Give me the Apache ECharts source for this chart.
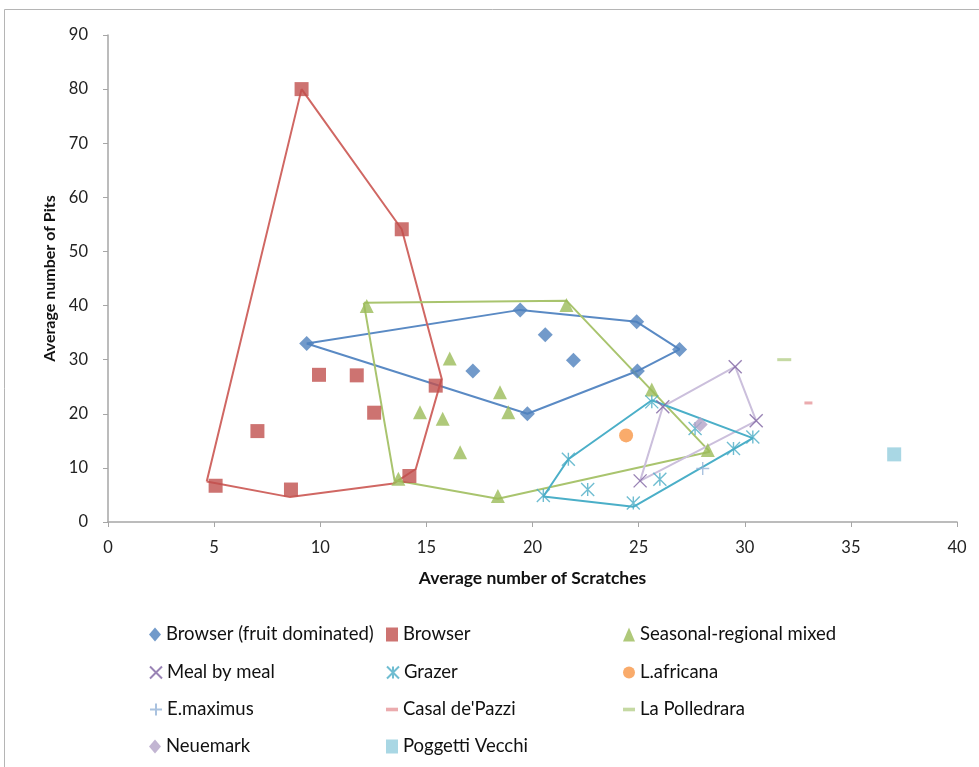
<!DOCTYPE html>
<html><head><meta charset="utf-8">
<script src="https://cdn.jsdelivr.net/npm/echarts/dist/echarts.min.js"></script>
<style>html,body{margin:0;padding:0;background:#fff}#c{width:979px;height:767px}</style>
</head><body><div id="c"></div><script>
// ---- data ----
const browserFruitX = [9.36, 19.42, 20.6, 21.93, 24.91, 26.93, 24.94, 19.76, 17.19];
const browserFruitY = [33.0, 39.2, 34.6, 29.9, 37.0, 31.9, 27.9, 20.0, 27.9];
const browserFruitHullX = [9.36, 19.42, 24.91, 26.93, 24.94, 19.76, 9.36];
const browserFruitHullY = [33.0, 39.2, 37.0, 31.9, 27.9, 20.0, 33.0];

const browserX = [9.12, 13.84, 9.94, 11.72, 12.54, 15.44, 7.04, 5.07, 8.62, 14.2];
const browserY = [80.0, 54.1, 27.2, 27.1, 20.2, 25.2, 16.8, 6.7, 6.0, 8.5];
const browserHullX = [4.65, 9.12, 13.84, 15.72, 14.5, 13.45, 8.58, 4.65];
const browserHullY = [7.5, 80.0, 54.1, 26.5, 9.8, 7.1, 4.6, 7.5];

const seasonalX = [12.19, 21.6, 16.1, 18.47, 14.7, 15.77, 18.86, 16.59, 13.68, 18.37, 25.62, 28.26];
const seasonalY = [39.9, 40.1, 30.2, 24.0, 20.3, 19.1, 20.3, 12.9, 8.0, 4.8, 24.5, 13.3];
const seasonalHullX = [12.05, 21.6, 28.35, 18.37, 13.5, 12.05];
const seasonalHullY = [40.5, 40.9, 13.0, 4.3, 7.7, 40.5];

const mealX = [29.55, 30.54, 25.07, 26.14];
const mealY = [28.7, 18.7, 7.6, 21.3];
const mealHullX = [25.07, 26.14, 29.55, 30.54, 25.07];
const mealHullY = [7.6, 21.3, 28.7, 18.7, 7.6];

const grazerX = [25.62, 21.69, 20.51, 22.6, 24.75, 26.0, 29.47, 30.38, 27.66];
const grazerY = [22.2, 11.6, 4.9, 6.0, 3.5, 7.9, 13.6, 15.7, 17.3];
const grazerHullX = [25.62, 21.69, 20.51, 24.75, 30.38, 25.62];
const grazerHullY = [22.5, 11.6, 4.7, 2.8, 15.5, 22.5];

const africanaX = [24.41];      const africanaY = [16.0];
const maximusX = [28.02];       const maximusY = [9.9];
const casalX = [33.0];          const casalY = [22.0];
const polledraraX = [31.86];    const polledraraY = [30.0];
const neuemarkX = [27.9];       const neuemarkY = [18.0];
const poggettiX = [37.04];      const poggettiY = [12.5];

const xMin = 0, xMax = 40, xStep = 5;
const yMin = 0, yMax = 90, yStep = 10;

// legend entries, read row by row (3 columns)
const legendOrder = [
  'Browser (fruit dominated)', 'Browser', 'Seasonal-regional mixed',
  'Meal by meal', 'Grazer', 'L.africana',
  'E.maximus', "Casal de'Pazzi", 'La Polledrara',
  'Neuemark', 'Poggetti Vecchi'
];

// ---- helpers ----
const pts = (xs, ys) => xs.map((x, i) => [x, ys[i]]);
const FONT = 'Lato';
const SYM_X = 'path://M0,0L10,10M10,0L0,10';
const SYM_AST = 'path://M0,0L10,10M10,0L0,10M5,0L5,10';
const SYM_PLUS = 'path://M5,0L5,10M0,5L10,5';
const SYM_DASH = 'path://M0,0H10V3H0Z';

function scatter(name, xs, ys, symbol, size, color, stroke) {
  return {
    type: 'scatter', name, data: pts(xs, ys), symbol, symbolSize: size, z: 5,
    itemStyle: stroke ? { color: color, borderColor: color, borderWidth: 1.4 } : { color: color },
    emphasis: { disabled: true }
  };
}
function hull(xs, ys, color) {
  return {
    type: 'line', data: pts(xs, ys), showSymbol: false, symbol: 'none', z: 3,
    lineStyle: { color: color, width: 2 }, emphasis: { disabled: true }, silent: true
  };
}

const colLeft = [149, 386, 623];
const rowTop = [625, 663, 700, 737];
const legends = legendOrder.map((name, i) => ({
  left: colLeft[i % 3], top: rowTop[Math.floor(i / 3)], padding: 0,
  itemWidth: 12, itemHeight: 14, selectedMode: false,
  textStyle: { fontFamily: FONT, fontSize: 18.5, color: '#111' },
  data: [name]
}));

const chart = echarts.init(document.getElementById('c'));
chart.setOption({
  animation: false,
  backgroundColor: '#fff',
  graphic: [{ type: 'rect', shape: { x: 4.5, y: 9.5, width: 1100, height: 900 },
              style: { fill: 'none', stroke: '#b5b5b5', lineWidth: 1 }, silent: true }],
  grid: { left: 108, right: 22, top: 35, bottom: 245, containLabel: false },
  xAxis: {
    type: 'value', min: xMin, max: xMax, interval: xStep,
    name: 'Average number of Scratches', nameLocation: 'middle', nameGap: 47,
    nameTextStyle: { fontFamily: FONT, fontSize: 17.5, fontWeight: 'bold', color: '#111' },
    axisLine: { show: true, lineStyle: { color: '#a6a6a6', width: 1.5 } },
    axisTick: { show: true, inside: false, length: 5, lineStyle: { color: '#a6a6a6' } },
    axisLabel: { fontFamily: FONT, fontSize: 16.5, color: '#222', margin: 17 },
    splitLine: { show: false }
  },
  yAxis: {
    type: 'value', min: yMin, max: yMax, interval: yStep,
    name: 'Average number of Pits', nameLocation: 'middle', nameGap: 50,
    nameTextStyle: { fontFamily: FONT, fontSize: 16, fontWeight: 'bold', color: '#111' },
    axisLine: { show: true, lineStyle: { color: '#a6a6a6', width: 1.5 } },
    axisTick: { show: true, inside: false, length: 5, lineStyle: { color: '#a6a6a6' } },
    axisLabel: { fontFamily: FONT, fontSize: 16.5, color: '#222', margin: 20 },
    splitLine: { show: false }
  },
  legend: legends,
  series: [
    hull(browserFruitHullX, browserFruitHullY, '#5a8ac4'),
    hull(browserHullX, browserHullY, '#d06763'),
    hull(seasonalHullX, seasonalHullY, '#a9c46e'),
    hull(mealHullX, mealHullY, '#cbbfdc'),
    hull(grazerHullX, grazerHullY, '#4bafc8'),
    scatter('Browser (fruit dominated)', browserFruitX, browserFruitY, 'diamond', 15, '#4f81bd'),
    scatter('Browser', browserX, browserY, 'rect', 14, '#c0504d'),
    scatter('Seasonal-regional mixed', seasonalX, seasonalY, 'triangle', 14, '#9bbb59'),
    scatter('Meal by meal', mealX, mealY, SYM_X, 13, '#8064a2', true),
    scatter('Grazer', grazerX, grazerY, SYM_AST, 13, '#4bacc6', true),
    scatter('L.africana', africanaX, africanaY, 'circle', 14, '#f79646'),
    scatter('E.maximus', maximusX, maximusY, SYM_PLUS, 13, '#95b3d7', true),
    scatter("Casal de'Pazzi", casalX, casalY, SYM_DASH, [8, 3], '#e6969a'),
    scatter('La Polledrara', polledraraX, polledraraY, SYM_DASH, [14, 3], '#b7d08c'),
    scatter('Neuemark', neuemarkX, neuemarkY, 'diamond', 15, '#b3a2c7'),
    scatter('Poggetti Vecchi', poggettiX, poggettiY, 'rect', 14, '#93cddd')
  ]
});
</script></body></html>
